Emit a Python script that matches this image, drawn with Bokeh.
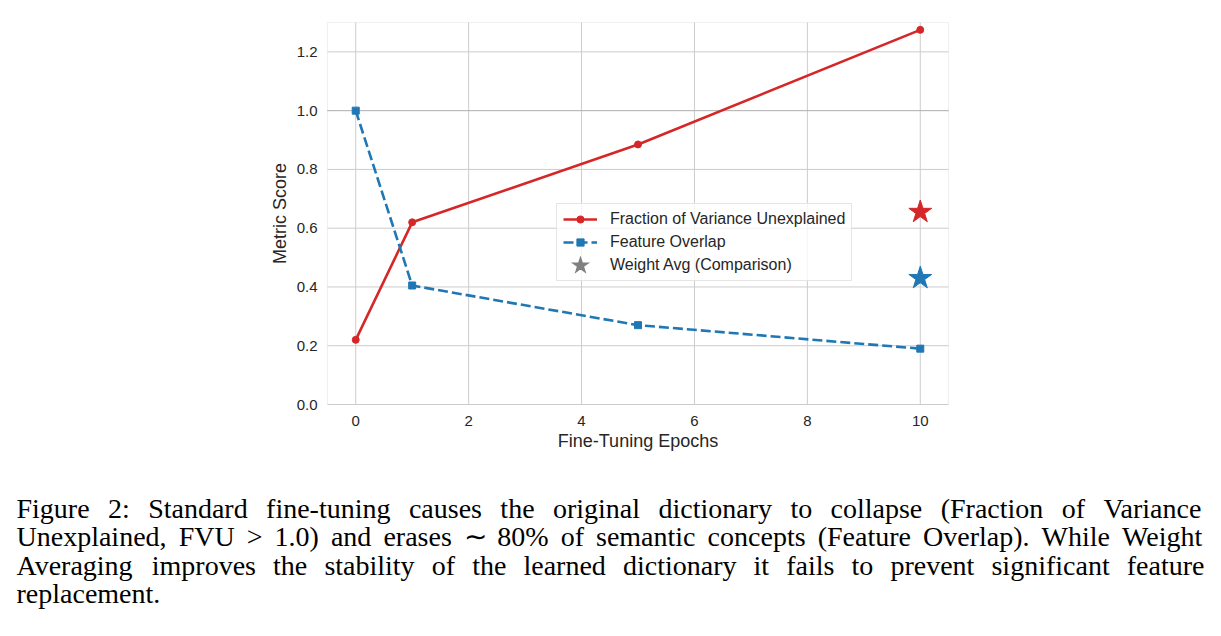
from bokeh.plotting import figure
from bokeh.models import (Range1d, Legend, LegendItem, ColumnDataSource,
                          FixedTicker, PrintfTickFormatter, BoxAnnotation)
from bokeh.embed import file_html
from bokeh.resources import INLINE
from bokeh.core.properties import value

# ---- data ---------------------------------------------------------------
epochs = [0, 1, 5, 10]
fvu = [0.22, 0.62, 0.885, 1.275]            # Fraction of Variance Unexplained
overlap = [1.0, 0.405, 0.27, 0.19]          # Feature Overlap
wavg_epoch = [10, 10]                       # Weight averaging comparison points
wavg_score = [0.655, 0.43]                  # FVU, Feature Overlap
x_ticks = [0, 2, 4, 6, 8, 10]
y_ticks = [0.0, 0.2, 0.4, 0.6, 0.8, 1.0, 1.2]
reference_level = 1.0

caption_lines = [
    "Figure 2: Standard fine-tuning causes the original dictionary to collapse (Fraction of Variance",
    "Unexplained, FVU > 1.0) and erases \u223c 80% of semantic concepts (Feature Overlap). While Weight",
    "Averaging improves the stability of the learned dictionary it fails to prevent significant feature",
    "replacement.",
]

# ---- style --------------------------------------------------------------
RED = "#d62728"
BLUE = "#1f77b4"
GREY = "#999999"
INK = "#262626"
GRID = "#cccccc"
SANS = "Liberation Sans"
SERIF = "Liberation Serif"

W, H = 1221, 636
# plot box on the page (pixels) and the data window it shows
BOX_L, BOX_R, BOX_T, BOX_B = 327, 948, 22, 404
X0, X1, Y0, Y1 = -0.5, 10.5, 0.0, 1.3
KX = (X1 - X0) / (BOX_R - BOX_L)
KY = (Y1 - Y0) / (BOX_B - BOX_T)


def page_to_data(px, py):
    return X0 + (px - BOX_L) * KX, Y0 + (BOX_B - py) * KY


# the frame covers the whole page so the caption below the chart is not clipped
(PX0, PY1), (PX1, PY0) = page_to_data(0, 0), page_to_data(W, H)

p = figure(width=W, height=H, output_backend="svg", toolbar_location=None,
           x_range=Range1d(PX0, PX1), y_range=Range1d(PY0, PY1),
           min_border=0, background_fill_color="white", border_fill_color="white")
p.outline_line_color = None
p.grid.visible = False

# axes pinned to the edges of the plot box
p.xaxis.fixed_location = Y0
p.yaxis.fixed_location = X0
p.xaxis.bounds = (X0, X1)
p.yaxis.bounds = (Y0, Y1)
p.xaxis.ticker = FixedTicker(ticks=x_ticks)
p.yaxis.ticker = FixedTicker(ticks=y_ticks)
p.yaxis.formatter = PrintfTickFormatter(format="%.1f")
for ax in (p.xaxis, p.yaxis):
    ax.axis_line_color = None
    ax.major_tick_line_color = None
    ax.minor_tick_line_color = None
    ax.major_tick_out = 0
    ax.major_tick_in = 0
    ax.minor_tick_out = 0
    ax.minor_tick_in = 0
    ax.major_label_text_font = SANS
    ax.major_label_text_font_size = "15px"
    ax.major_label_text_color = INK
    ax.axis_label_text_font = SANS
    ax.axis_label_text_font_size = "18px"
    ax.axis_label_text_font_style = "normal"
    ax.axis_label_text_color = INK
p.xaxis.axis_label = "Fine-Tuning Epochs"
p.yaxis.axis_label = "Metric Score"
p.xaxis.major_label_standoff = 11
p.xaxis.axis_label_standoff = 2
p.yaxis.major_label_standoff = 10
p.yaxis.axis_label_standoff = 4

# grid lines inside the plot box
p.segment(x0=x_ticks, x1=x_ticks, y0=[Y0] * len(x_ticks), y1=[Y1] * len(x_ticks),
          line_color=GRID, line_width=1)
p.segment(x0=[X0] * len(y_ticks), x1=[X1] * len(y_ticks), y0=y_ticks, y1=y_ticks,
          line_color=GRID, line_width=1)
p.add_layout(BoxAnnotation(left=X0, right=X1, bottom=Y0, top=Y1, fill_alpha=0,
                           line_color=GRID, line_width=1.2, level="underlay"))

# dotted reference level
p.line(x=[X0, X1], y=[reference_level] * 2, line_color=GREY, line_width=1,
       line_dash="1 1")

fvu_line = p.line(epochs, fvu, line_color=RED, line_width=2.6)
fvu_pts = p.scatter(epochs, fvu, marker="circle", size=7, color=RED)
ov_line = p.line(epochs, overlap, line_color=BLUE, line_width=2.6, line_dash="10 4")
ov_pts = p.scatter(epochs, overlap, marker="square", size=7, color=BLUE)

star_src = ColumnDataSource(dict(x=wavg_epoch, y=wavg_score, c=[RED, BLUE]))
p.scatter("x", "y", source=star_src, marker="star", size=24, color="c")
# legend key only: a grey star with no visible position; a heavy mitred
# outline makes the small legend marker read at the size of the plotted stars
star_key = p.scatter(x=wavg_epoch[:1], y=[float("nan")], marker="star", size=20,
                     fill_color="#808080", line_color="#808080", line_width=4,
                     line_join="miter")

legend = Legend(items=[
    LegendItem(label="Fraction of Variance Unexplained", renderers=[fvu_line, fvu_pts]),
    LegendItem(label="Feature Overlap", renderers=[ov_line, ov_pts]),
    LegendItem(label="Weight Avg (Comparison)", renderers=[star_key]),
], location=(556, H - 281))
legend.label_text_font = SANS
legend.label_text_font_size = "16px"
legend.label_text_color = INK
legend.glyph_width = 34
legend.glyph_height = 18
legend.label_height = 18
legend.label_standoff = 13
legend.spacing = 5
legend.padding = 6
legend.margin = 0
legend.border_line_color = GRID
legend.border_line_width = 1
legend.background_fill_alpha = 0.8
p.add_layout(legend)

# ---- caption (justified, Times-compatible widths) -----------------------
TIMES = {" ": 250, "(": 333, ")": 333, ",": 250, "-": 333, ".": 250, ":": 278,
         "%": 833, ">": 564, "\u223c": 760}
TIMES.update({d: 500 for d in "0123456789"})
TIMES.update(dict(zip("abcdefghijklmnopqrstuvwxyz",
                      [444, 500, 444, 500, 444, 333, 500, 500, 278, 278, 500, 278, 778,
                       500, 500, 500, 500, 333, 389, 278, 500, 500, 722, 500, 500, 444])))
TIMES.update(dict(zip("ABCDEFGHIJKLMNOPQRSTUVWXYZ",
                      [722, 667, 667, 722, 611, 556, 722, 722, 333, 389, 722, 611, 889,
                       722, 722, 556, 722, 667, 556, 611, 722, 722, 944, 722, 722, 611])))

FS = 28.0
LEFT, RIGHT = 16.0, 1204.0
BASE0, PITCH = 508.0, 28.3     # page pixels, first text line and line pitch


def word_width(w):
    return sum(TIMES.get(ch, 500) for ch in w) / 1000.0 * FS


cx, cy, ct = [], [], []
for i, line in enumerate(caption_lines):
    words = line.split(" ")
    widths = [word_width(w) for w in words]
    if i < len(caption_lines) - 1 and len(words) > 1:
        gap = (RIGHT - LEFT - sum(widths)) / (len(words) - 1)
    else:
        gap = TIMES[" "] / 1000.0 * FS
    x = LEFT
    for w, wd in zip(words, widths):
        dx, dy = page_to_data(x, BASE0 + i * PITCH)
        cx.append(dx)
        cy.append(dy)
        ct.append(w)
        x += wd + gap

p.text(x=cx, y=cy, text=ct, text_font=value(SERIF), text_font_size=f"{FS}px",
       text_baseline="alphabetic", text_align="left", text_color="black")

open("out.html", "w").write(file_html(p, INLINE))
